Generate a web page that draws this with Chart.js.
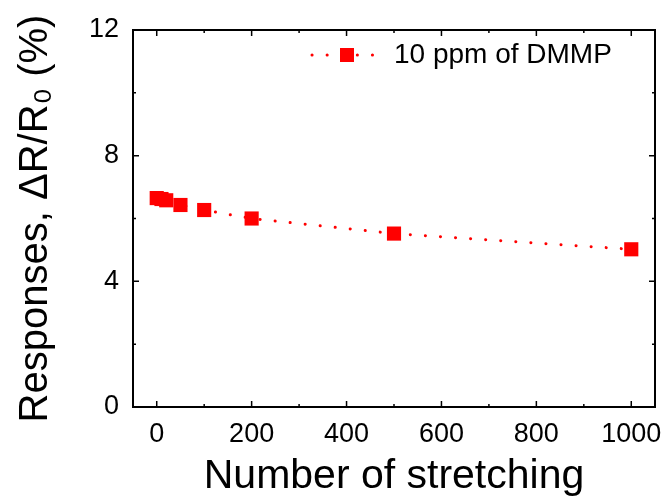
<!DOCTYPE html>
<html>
<head>
<meta charset="utf-8">
<script src="https://cdn.jsdelivr.net/npm/chart.js@4"></script>
<style>
  html, body { margin: 0; padding: 0; background: #fff; }
  #wrap { width: 665px; height: 503px; }
</style>
</head>
<body>
<div id="wrap"><canvas id="stretchChart" width="665" height="503"></canvas></div>
<script>
const stretch_counts = [0, 10, 20, 50, 100, 200, 500, 1000];
const responses = [6.65, 6.62, 6.58, 6.43, 6.27, 6.0, 5.52, 5.02];
const series_label = "10 ppm of DMMP";
const x_ticks = [0, 200, 400, 600, 800, 1000];
const y_ticks = [0, 4, 8, 12];

const FONT = "'Liberation Sans', Arial, sans-serif";
const RED = "#FF0000";

// frame on all four sides with inward ticks, like the origin plot
const framePlugin = {
  id: "frame",
  afterDraw(chart) {
    const ctx = chart.ctx;
    const a = chart.chartArea;
    const xs = chart.scales.x;
    const ys = chart.scales.y;
    ctx.save();
    ctx.strokeStyle = "#000";
    ctx.lineWidth = 2;
    ctx.strokeRect(a.left, a.top, a.right - a.left, a.bottom - a.top);
    ctx.lineWidth = 1.5;
    for (let v = 0; v <= 1000; v += 100) {
      const px = xs.getPixelForValue(v);
      const len = v % 200 === 0 ? 6 : 3;
      ctx.beginPath();
      ctx.moveTo(px, a.bottom);
      ctx.lineTo(px, a.bottom - len);
      ctx.moveTo(px, a.top);
      ctx.lineTo(px, a.top + len);
      ctx.stroke();
    }
    for (let v = 0; v <= 12; v += 2) {
      const py = ys.getPixelForValue(v);
      const len = v % 4 === 0 ? 6 : 3;
      ctx.beginPath();
      ctx.moveTo(a.left, py);
      ctx.lineTo(a.left + len, py);
      ctx.moveTo(a.right, py);
      ctx.lineTo(a.right - len, py);
      ctx.stroke();
    }
    ctx.restore();
  },
};

// legend: dotted line through a square marker, then the label
const legendPlugin = {
  id: "dotLegend",
  afterDraw(chart) {
    const ctx = chart.ctx;
    const a = chart.chartArea;
    const y = a.top + 25;
    const x0 = a.left + 179;
    ctx.save();
    ctx.strokeStyle = RED;
    ctx.lineWidth = 3;
    ctx.lineCap = "round";
    ctx.setLineDash([0.1, 15]);
    ctx.beginPath();
    ctx.moveTo(x0, y);
    ctx.lineTo(x0 + 68, y);
    ctx.stroke();
    ctx.setLineDash([]);
    ctx.fillStyle = RED;
    ctx.fillRect(x0 + 28, y - 7, 14, 14);
    ctx.fillStyle = "#000";
    ctx.font = "28px " + FONT;
    ctx.textBaseline = "middle";
    ctx.fillText(series_label, x0 + 82, y);
    ctx.restore();
  },
};

new Chart(document.getElementById("stretchChart"), {
  type: "line",
  data: {
    datasets: [
      {
        label: series_label,
        data: stretch_counts.map((c, i) => ({ x: c, y: responses[i] })),
        borderColor: RED,
        backgroundColor: RED,
        borderWidth: 3,
        borderDash: [0.1, 15],
        borderCapStyle: "round",
        pointStyle: "rect",
        pointRadius: 10,
        pointBorderWidth: 0,
        fill: false,
        tension: 0,
      },
    ],
  },
  options: {
    responsive: false,
    animation: false,
    layout: { padding: { left: 0, right: 10, top: 30, bottom: 0 } },
    plugins: {
      legend: { display: false },
      tooltip: { enabled: false },
    },
    scales: {
      x: {
        type: "linear",
        min: -50,
        max: 1050,
        afterBuildTicks: (s) => {
          s.ticks = x_ticks.map((v) => ({ value: v }));
        },
        afterFit: (s) => {
          s.height = 96;
        },
        grid: { display: false },
        border: { display: false },
        ticks: {
          color: "#000",
          font: { family: FONT, size: 27 },
          padding: 3,
          maxRotation: 0,
          callback: (v) => String(v),
        },
        title: {
          display: true,
          text: "Number of stretching",
          color: "#000",
          font: { family: FONT, size: 41 },
          padding: { top: 0, bottom: 2 },
        },
      },
      y: {
        type: "linear",
        min: 0,
        max: 12,
        afterBuildTicks: (s) => {
          s.ticks = y_ticks.map((v) => ({ value: v }));
        },
        afterFit: (s) => {
          s.width = 133;
        },
        grid: { display: false },
        border: { display: false },
        ticks: {
          color: "#000",
          font: { family: FONT, size: 27 },
          padding: 6,
          callback: (v) => String(v),
        },
        title: {
          display: true,
          text: "Responses, \u0394R/R\u2080 (%)",
          color: "#000",
          font: { family: FONT, size: 40 },
          padding: { top: 12, bottom: 0 },
        },
      },
    },
  },
  plugins: [framePlugin, legendPlugin],
});
</script>
</body>
</html>
